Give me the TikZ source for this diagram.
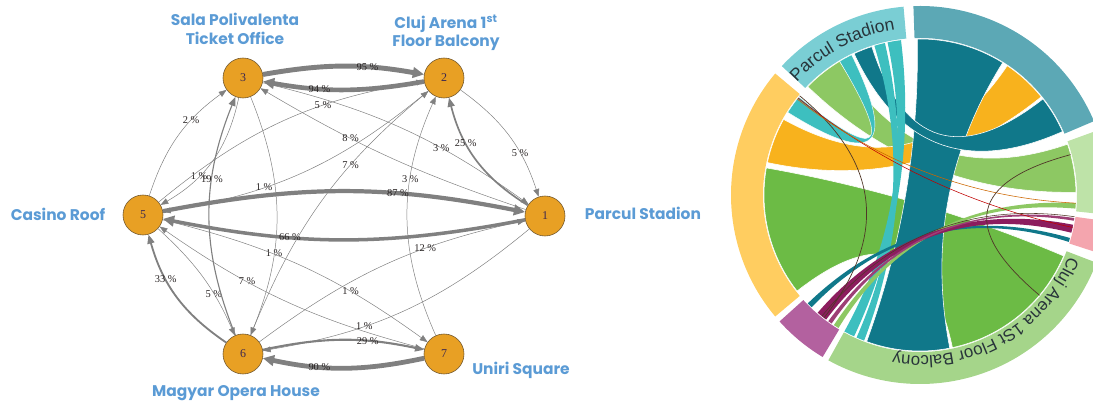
\documentclass[tikz,border=0pt]{standalone}
\usepackage{fontspec}
\setmainfont{Liberation Serif}
\newfontfamily\lblfont{Poppins}
\newfontfamily\ringfontfam{Liberation Sans}
\usetikzlibrary{arrows.meta,decorations.text}
\definecolor{lblblue}{RGB}{91,155,213}
\definecolor{nodeor}{RGB}{232,160,36}
\definecolor{nodebd}{RGB}{110,85,45}
\definecolor{numcol}{RGB}{60,40,80}
\definecolor{egray}{RGB}{128,128,128}
\definecolor{labcol}{RGB}{40,35,35}
\definecolor{ringP}{RGB}{122,206,212}
\definecolor{ringT}{RGB}{92,168,181}
\definecolor{ringR}{RGB}{190,227,168}
\definecolor{ringK}{RGB}{244,165,174}
\definecolor{ringC}{RGB}{165,213,138}
\definecolor{ringM}{RGB}{179,97,159}
\definecolor{ringY}{RGB}{255,205,96}
\definecolor{cDteal}{RGB}{16,120,138}
\definecolor{cOrange}{RGB}{248,178,29}
\definecolor{cGreen}{RGB}{108,187,69}
\definecolor{cLgreen}{RGB}{141,200,99}
\definecolor{cCyan}{RGB}{61,191,191}
\definecolor{cMag}{RGB}{140,29,94}
\definecolor{cBrown}{RGB}{80,55,40}
\definecolor{ringtxt}{RGB}{40,52,58}
\newcommand\lblstyle{\lblfont\bfseries\fontsize{11}{13.4}\selectfont}
\newcommand\elabfont{\fontsize{7.4}{8}\selectfont}
\newcommand\numfont{\fontsize{8.5}{9}\selectfont}
% chord ribbon: source arc #1..#2, target arc #3..#4, style #5
\newcommand\rib[5]{\fill[#5] (#1:156) arc[start angle=#1,end angle=#2,radius=156]
  .. controls (#2:52) and (#3:52) .. (#3:156) arc[start angle=#3,end angle=#4,radius=156]
  .. controls (#4:52) and (#1:52) .. (#1:156) -- cycle;}
\newcommand\chordline[3]{\draw[#3] (#1:156) .. controls (#1:52) and (#2:52) .. (#2:156);}
\newcommand\seg[3]{\fill[#3] (#1:157) arc[start angle=#1,end angle=#2,radius=157]
  -- (#2:189) arc[start angle=#2,end angle=#1,radius=189] -- cycle;}
\begin{document}
\begin{tikzpicture}[x=0.025cm, y=-0.025cm,
  vtx/.style={circle, fill=nodeor, draw=nodebd, line width=0.4pt, minimum size=1cm,
    inner sep=0pt, font=\numfont, text=numcol},
  place/.style={font=\lblstyle, text=lblblue, inner sep=0pt, align=center},
  ed/.style={draw=egray, line width=0.35pt, -{Triangle[length=5.5pt,width=4.2pt]}},
  med/.style={draw=egray, line width=#1, -{Triangle[length=6.5pt,width=5pt]}},
  thk/.style={draw=egray, line width=#1, -{Triangle[length=8pt,width=7.5pt]}},
  lab/.style={font=\elabfont, text=labcol, inner sep=0pt, pos=0.66}]
\useasboundingbox (0,0) rectangle (1093,405);

% ---------- network ----------
\node[vtx] (n3) at (243,78) {3};
\node[vtx] (n2) at (444,78) {2};
\node[vtx] (n5) at (143,215) {5};
\node[vtx] (n1) at (545,216) {1};
\node[vtx] (n6) at (243,354) {6};
\node[vtx] (n7) at (444,354) {7};

\node[place] (tsala) at (235,29) {Sala Polivalenta\\Ticket Office};
\node[place] (tcluj) at (446,33) {Cluj Arena 1\textsuperscript{st}\\Floor Balcony};
\node[place, anchor=base] (tcasino) at (58,221) {Casino Roof};
\node[place, anchor=base] (tparcul) at (643,220) {Parcul Stadion};
\node[place, anchor=base] (tmagyar) at (236,397) {Magyar Opera House};
\node[place, anchor=base] (tuniri) at (521,375) {Uniri Square};

\draw[ed] (n2) to[bend left=18] node[lab]{5 \%} (n1);
\draw[ed] (n5) to[bend left=12] node[lab]{5 \%} (n6);
\draw[ed] (n5) to[bend left=18] node[lab]{2 \%} (n3);
\draw[ed] (n3) to[bend left=24] node[lab]{1 \%} (n5);
\draw[ed] (n3) to[bend left=22] node[lab]{1 \%} (n6);
\draw[ed] (n5) to[bend left=15] node[lab]{5 \%} (n2);
\draw[ed] (n2) to[bend left=15] node[lab]{1 \%} (n5);
\draw[ed] (n1) to[bend left=6] node[lab]{8 \%} (n3);
\draw[ed] (n3) to[bend left=11] node[lab]{3 \%} (n1);
\draw[ed] (n6) to[bend left=14] node[lab]{7 \%} (n2);
\draw[ed] (n7) to[bend left=24] node[lab]{3 \%} (n2);
\draw[ed] (n6) to[bend left=12] node[lab]{12 \%} (n1);
\draw[ed] (n1) to[bend left=15] node[lab]{1 \%} (n6);
\draw[ed] (n7) to[bend left=10] node[lab]{7 \%} (n5);
\draw[ed] (n5) to[bend left=11] node[lab, pos=0.7]{1 \%} (n7);
\draw[med=0.8pt] (n6) to[bend left=22] node[lab]{19 \%} (n3);
\draw[med=1.2pt] (n1) to[bend left=22] node[lab]{25 \%} (n2);
\draw[med=1.3pt] (n6) to[bend left=20] node[lab]{33 \%} (n5);
\draw[med=1.5pt] (n6) to[bend left=12] node[lab]{29 \%} (n7);
\draw[thk=3.5pt] (n3) to[bend left=10] node[lab]{95 \%} (n2);
\draw[thk=3.3pt] (n2) to[bend left=10] node[lab]{94 \%} (n3);
\draw[thk=3.0pt] (n5) to[bend left=11] node[lab]{87 \%} (n1);
\draw[thk=2.5pt] (n1) to[bend left=11] node[lab]{66 \%} (n5);
\draw[thk=3.4pt] (n7) to[bend left=12] node[lab]{90 \%} (n6);

% ---------- chord diagram ----------
\begin{scope}
\clip (0,0) rectangle (1093,405);
\begin{scope}[shift={(920,195)}, y=0.025cm]
  \rib{170}{218}{-78}{-23}{cGreen, draw=white, line width=0.4pt}
  \rib{121}{136}{1}{19}{cLgreen, draw=white, line width=0.4pt}
  \rib{151}{168}{39}{56}{cOrange, draw=white, line width=0.4pt}
  \rib{58}{91}{-110}{-79}{cDteal, draw=white, line width=0.4pt}
  \rib{108}{115}{24}{38}{cDteal, draw=white, line width=0.4pt}
  \rib{116}{121}{141}{148}{cCyan, draw=white, line width=0.3pt}
  \rib{103}{107}{-114}{-111}{cCyan}
  \rib{97}{102}{-119}{-115}{cCyan}
  \rib{236.5}{238.5}{-5}{-3}{cLgreen}
  \rib{224}{226}{-17.5}{-16}{cDteal}
  \rib{229}{233}{-14}{-11}{cMag}
  \rib{234}{235.5}{-9.5}{-8.5}{cMag!85!white}
  \chordline{140.5}{232}{cBrown, line width=0.5pt}
  \chordline{141.5}{-12}{red!75!black, line width=0.4pt}
  \chordline{142}{-3}{orange!80!black, line width=0.4pt}
  \chordline{15}{-40}{cBrown, line width=0.5pt}
  \chordline{231}{-8}{cBrown, line width=0.4pt}
  \seg{95}{137}{ringP}
  \seg{23}{92}{ringT}
  \seg{-6}{20}{ringR}
  \seg{-18}{-8}{ringK}
  \seg{-119}{-21}{ringC}
  \seg{222}{239}{ringM}
  \seg{140}{220}{ringY}
  \path[decorate, decoration={text along path, text align=center, text color=ringtxt,
    text={|\ringfontfam\fontsize{12.4}{14}\selectfont|Parcul Stadion}}]
    (146:167) arc[start angle=146, end angle=90, radius=167];
  \path[decorate, decoration={text along path, text align=center, text color=ringtxt,
    text={|\ringfontfam\fontsize{12}{14}\selectfont|Cluj Arena 1St Floor Balcony}}]
    (-4:161) arc[start angle=-4, end angle=-118, radius=161];
\end{scope}
\end{scope}
\end{tikzpicture}
\end{document}
